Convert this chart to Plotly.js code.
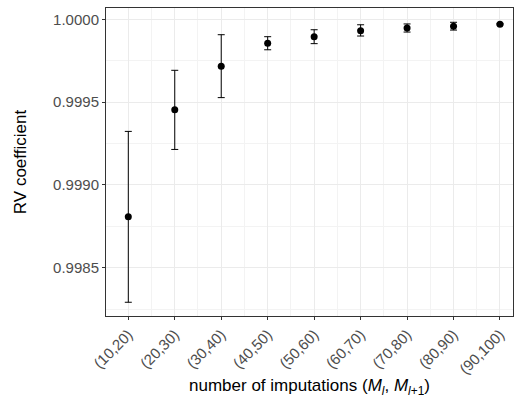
<!DOCTYPE html>
<html>
<head>
<meta charset="utf-8">
<script src="https://cdn.plot.ly/plotly-3.0.1.min.js"></script>
<style>html,body{margin:0;padding:0;background:#fff;}#chart{width:514px;height:398px;}</style>
</head>
<body>
<div id="chart"></div>
<script>
const categories = ["(10,20)","(20,30)","(30,40)","(40,50)","(50,60)","(60,70)","(70,80)","(80,90)","(90,100)"];
const rvMean  = [0.998807, 0.999454, 0.999716, 0.999855, 0.999895, 0.999931, 0.999947, 0.999958, 0.999970];
const rvUpper = [0.999323, 0.999692, 0.999907, 0.999895, 0.999937, 0.999967, 0.999972, 0.999982, 0.999975];
const rvLower = [0.998291, 0.999214, 0.999527, 0.999816, 0.999853, 0.999899, 0.999923, 0.999935, 0.999966];
const yTicks = [0.9985, 0.9990, 0.9995, 1.0000];
const yTickText = ["0.9985", "0.9990", "0.9995", "1.0000"];

const xIdx = categories.map((_, i) => i);
const errPlus = rvUpper.map((u, i) => u - rvMean[i]);
const errMinus = rvMean.map((m, i) => m - rvLower[i]);

const trace = {
  x: xIdx,
  y: rvMean,
  type: 'scatter',
  mode: 'markers',
  marker: {color: '#000000', size: 7},
  error_y: {type: 'data', symmetric: false, array: errPlus, arrayminus: errMinus,
            color: '#000000', thickness: 1, width: 3.5},
  hoverinfo: 'skip'
};

const layout = {
  width: 514, height: 398,
  margin: {l: 106, r: 1, t: 8, b: 82},
  paper_bgcolor: '#ffffff', plot_bgcolor: '#ffffff',
  showlegend: false,
  font: {family: 'Liberation Sans, Arial, sans-serif'},
  xaxis: {
    range: [-0.48, 8.28],
    tickmode: 'array', tickvals: xIdx, ticktext: categories,
    tickangle: -45,
    tickfont: {size: 15, color: '#4d4d4d'},
    ticks: 'outside', ticklen: 3, tickcolor: '#333333', tickwidth: 1,
    showgrid: true, gridcolor: '#ebebeb', gridwidth: 1,
    minor: {tickmode: 'linear', tick0: 0.5, dtick: 1, showgrid: true, gridcolor: '#f3f3f3', gridwidth: 1, ticks: ''},
    showline: true, linecolor: '#333333', linewidth: 1, mirror: true,
    zeroline: false,
    title: {text: 'number of imputations (<i>M</i><sub><i>l</i></sub>, <i>M</i><sub><i>l</i>+1</sub>)', font: {size: 17, color: '#000000'}, standoff: 4},
    automargin: false
  },
  yaxis: {
    range: [0.998208, 1.0000683],
    tickmode: 'array', tickvals: yTicks, ticktext: yTickText,
    tickfont: {size: 15, color: '#4d4d4d'},
    ticks: 'outside', ticklen: 3, tickcolor: '#333333', tickwidth: 1,
    showgrid: true, gridcolor: '#ebebeb', gridwidth: 1,
    minor: {tickmode: 'linear', tick0: 0.99825, dtick: 0.0005, showgrid: true, gridcolor: '#f3f3f3', gridwidth: 1, ticks: ''},
    showline: true, linecolor: '#333333', linewidth: 1, mirror: true,
    zeroline: false,
    title: {text: 'RV coefficient', font: {size: 17, color: '#000000'}, standoff: 22},
    automargin: false
  }
};

Plotly.newPlot('chart', [trace], layout, {displayModeBar: false, staticPlot: true});
</script>
</body>
</html>
